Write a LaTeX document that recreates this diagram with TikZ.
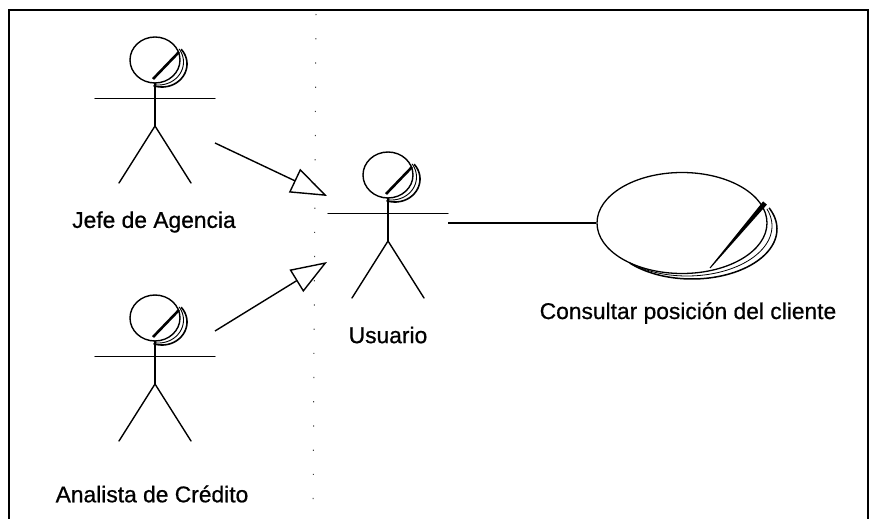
\documentclass[tikz,border=0pt]{standalone}
\usepackage{fontspec}
\setmainfont{Liberation Sans}
\newfontfamily\capfont{Liberation Sans}[FakeBold=0.7]
\usetikzlibrary{arrows.meta,shapes.geometric}
\begin{document}
\begin{tikzpicture}[x=1pt,y=-1pt,
  stroke/.style={line width=1.4pt, line cap=round, line join=round},
  caption/.style={font=\capfont\fontsize{22.8}{27}\selectfont, inner sep=0pt, anchor=center},
  generalization/.style={line width=1.4pt, -{Triangle[open, length=36pt, width=26pt]}},
  association/.style={line width=1.3pt},
  usecase/.style={ellipse, draw, line width=1.3pt, minimum width=170pt, minimum height=101pt, inner sep=0pt},
  divider/.style={line width=1pt, black!75, dash pattern=on 1.2pt off 23pt},
  pics/actor/.style={code={
     % head with its raised rim and highlight stroke
     \draw[stroke] (0,0) ellipse [x radius=25, y radius=23];
     \draw[line width=1.6pt] plot[domain=-40:110, samples=40] ({7+25*cos(\x)}, {4+23*sin(\x)});
     \draw[line width=0.9pt] plot[domain=-35:100, samples=40] ({3.5+25*cos(\x)}, {2+23*sin(\x)});
     \draw[line width=2.6pt] (-2,19) -- (24,-8);
     % arms, body and legs
     \draw[stroke] (-60,38.5) -- (60,38.5);
     \draw[stroke] (0,23) -- (0,66) coordinate (-hip);
     \draw[stroke] (-36,123) -- (-hip) -- (36,123);
  }}
]
\useasboundingbox (0,0) rectangle (876,519);

% frame, open at the bottom
\draw[line width=1.8pt] (9,519) -- (9,10) -- (868,10) -- (868,519);

% boundary line
\draw[divider] (316,14) -- (313,519);

% actors
\pic (jefe) at (155,60) {actor};
\pic (usuario) at (388,175) {actor};
\pic (analista) at (155,318) {actor};

\node[caption] (jefe-name) at (154,222) {Jefe de Agencia};
\node[caption] (usuario-name) at (388,335) {Usuario};
\node[caption] (analista-name) at (152,494) {Analista de Crédito};

% use case
\node[usecase] (consulta) at (682,223) {};
\draw[line width=1.5pt] plot[domain=-25:137, samples=60] ({692+85*cos(\x)}, {229+50*sin(\x)});
\draw[line width=0.8pt] plot[domain=-20:125, samples=60] ({687+85*cos(\x)}, {226+50*sin(\x)});
\fill (709.6,267.7) -- (710.4,268.3) -- (766.9,204.6) -- (763.1,201.4) -- cycle;
\node[caption] (consulta-name) at (688,313) {Consultar posición del cliente};

% connector ends
\coordinate (jefe-out) at (215,143);
\coordinate (analista-out) at (215,331);
\coordinate (usuario-in1) at (327,196);
\coordinate (usuario-in2) at (327,262);
\coordinate (usuario-out) at (448,223);

% generalizations and association
\draw[generalization] (jefe-out) -- (usuario-in1);
\draw[generalization] (analista-out) -- (usuario-in2);
\draw[association] (usuario-out) -- (consulta.west);
\end{tikzpicture}
\end{document}
